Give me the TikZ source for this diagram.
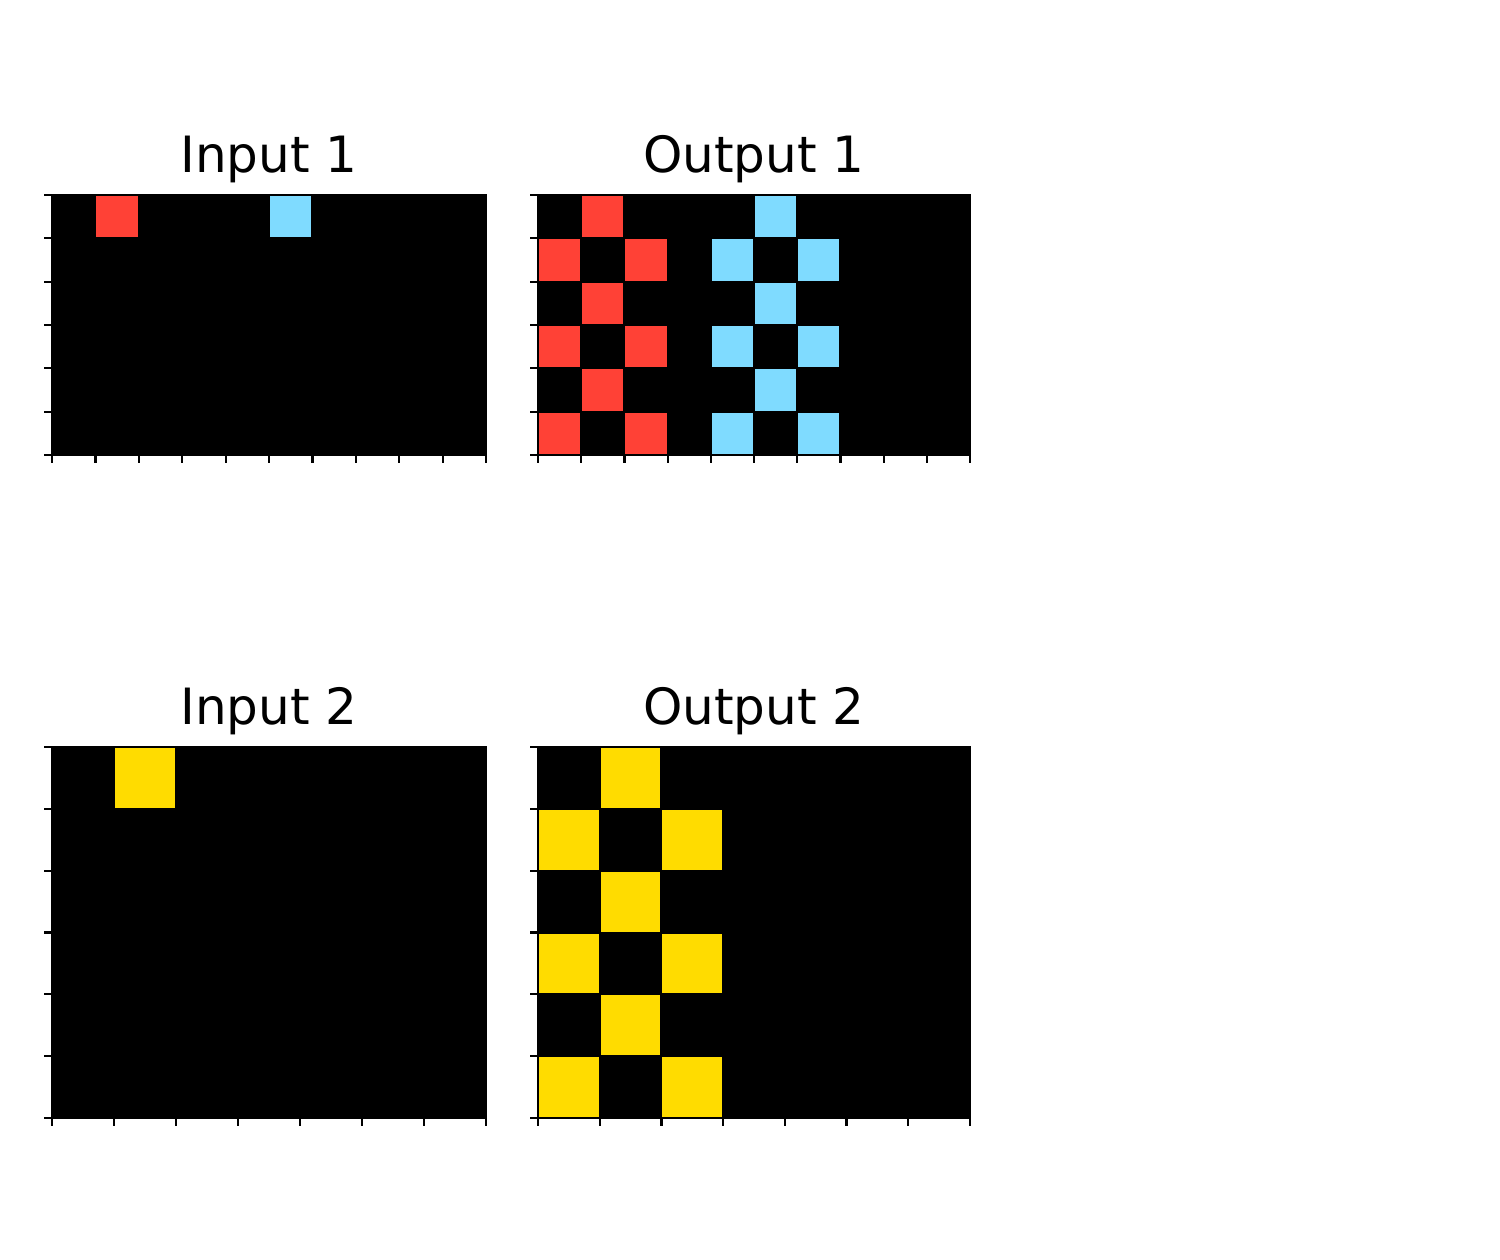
\documentclass[tikz,border=0pt]{standalone}
\usepackage{fontspec}
\setmainfont{DejaVu Sans}
\usepackage{tikz}
\usetikzlibrary{calc}
\definecolor{arcred}{HTML}{FF4136}
\definecolor{arcblue}{HTML}{7FDBFF}
\definecolor{arcyellow}{HTML}{FFDC00}
\tikzset{
	paneltitle/.style={anchor=base, font=\fontsize{25}{30}\selectfont},
	gridline/.style={black, line width=1pt},
	tickmark/.style={black, line width=1.1pt}
}
\begin{document}
\begin{tikzpicture}[x=0.5pt, y=-0.5pt]
	\useasboundingbox (0,0) rectangle (1500,1259);
	% Input 1: 6 rows x 10 columns
	\fill[black] (52,195) rectangle (486,455);
	\fill[arcred] (52+1*43.4,195) rectangle +(43.4,43.33);
	\fill[arcblue] (52+5*43.4,195) rectangle +(43.4,43.33);
	\foreach \i in {1,...,9} \draw[gridline] (52+\i*43.4,195) -- (52+\i*43.4,455);
	\foreach \j in {1,...,5} \draw[gridline] (52,195+\j*43.33) -- (486,195+\j*43.33);
	\draw[black, line width=0.8pt] (52,195) rectangle (486,455);
	\foreach \j in {0,...,6} \draw[tickmark] (44,195+\j*43.33) -- (52,195+\j*43.33);
	\foreach \i in {0,...,10} \draw[tickmark] (52+\i*43.4,455) -- (52+\i*43.4,463);
	\node[paneltitle] (in1) at (269,172) {Input 1};
	% Output 1
	\fill[black] (538,195) rectangle (970,455);
	\foreach \r in {0,2,4} {
		\fill[arcred] (538+1*43.2,195+\r*43.33) rectangle +(43.2,43.33);
		\fill[arcblue] (538+5*43.2,195+\r*43.33) rectangle +(43.2,43.33);
	}
	\foreach \r in {1,3,5} {
		\foreach \c in {0,2} \fill[arcred] (538+\c*43.2,195+\r*43.33) rectangle +(43.2,43.33);
		\foreach \c in {4,6} \fill[arcblue] (538+\c*43.2,195+\r*43.33) rectangle +(43.2,43.33);
	}
	\foreach \i in {1,...,9} \draw[gridline] (538+\i*43.2,195) -- (538+\i*43.2,455);
	\foreach \j in {1,...,5} \draw[gridline] (538,195+\j*43.33) -- (970,195+\j*43.33);
	\draw[black, line width=0.8pt] (538,195) rectangle (970,455);
	\foreach \j in {0,...,6} \draw[tickmark] (530,195+\j*43.33) -- (538,195+\j*43.33);
	\foreach \i in {0,...,10} \draw[tickmark] (538+\i*43.2,455) -- (538+\i*43.2,463);
	\node[paneltitle] (out1) at (754,172) {Output 1};
	% Input 2: 6 rows x 7 columns
	\fill[black] (52,747) rectangle (486,1118);
	\fill[arcyellow] (52+1*62,747) rectangle +(62,61.83);
	\foreach \i in {1,...,6} \draw[gridline] (52+\i*62,747) -- (52+\i*62,1118);
	\foreach \j in {1,...,5} \draw[gridline] (52,747+\j*61.83) -- (486,747+\j*61.83);
	\draw[black, line width=0.8pt] (52,747) rectangle (486,1118);
	\foreach \j in {0,...,6} \draw[tickmark] (44,747+\j*61.83) -- (52,747+\j*61.83);
	\foreach \i in {0,...,7} \draw[tickmark] (52+\i*62,1118) -- (52+\i*62,1126);
	\node[paneltitle] (in2) at (269,724) {Input 2};
	% Output 2
	\fill[black] (538,747) rectangle (970,1118);
	\foreach \r in {0,2,4} \fill[arcyellow] (538+1*61.71,747+\r*61.83) rectangle +(61.71,61.83);
	\foreach \r in {1,3,5} {
		\foreach \c in {0,2} \fill[arcyellow] (538+\c*61.71,747+\r*61.83) rectangle +(61.71,61.83);
	}
	\foreach \i in {1,...,6} \draw[gridline] (538+\i*61.71,747) -- (538+\i*61.71,1118);
	\foreach \j in {1,...,5} \draw[gridline] (538,747+\j*61.83) -- (970,747+\j*61.83);
	\draw[black, line width=0.8pt] (538,747) rectangle (970,1118);
	\foreach \j in {0,...,6} \draw[tickmark] (530,747+\j*61.83) -- (538,747+\j*61.83);
	\foreach \i in {0,...,7} \draw[tickmark] (538+\i*61.71,1118) -- (538+\i*61.71,1126);
	\node[paneltitle] (out2) at (754,724) {Output 2};
\end{tikzpicture}
\end{document}
